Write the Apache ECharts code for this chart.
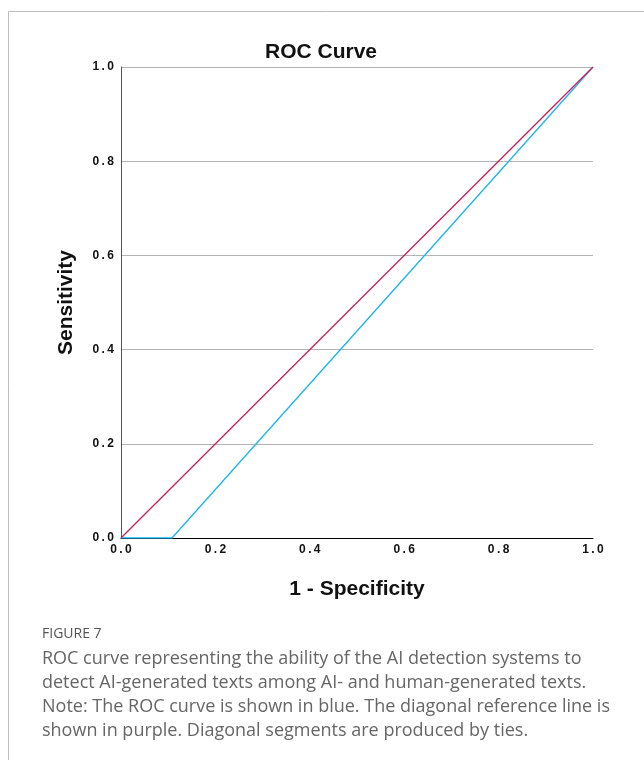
<!DOCTYPE html>
<html>
<head>
<meta charset="utf-8">
<script src="https://cdn.jsdelivr.net/npm/echarts@6/dist/echarts.min.js"></script>
<style>
  html, body { margin: 0; padding: 0; background: #fff; }
  #chart { width: 644px; height: 760px; }
</style>
</head>
<body>
<div id="chart"></div>
<script>
// ROC curve points (1 - specificity, sensitivity)
const rocX = [0, 0.108, 1]
const rocY = [0, 0, 1]
// diagonal reference line
const refX = [0, 1]
const refY = [0, 1]
// tick labels are letter-spaced in the original, thin spaces mimic that
const tickLabels = ['0.0', '0.2', '0.4', '0.6', '0.8', '1.0']
  .map(s => s.split('').join('\u2009'))

const captionLines = [
  'ROC curve representing the ability of the AI detection systems to',
  'detect AI-generated texts among AI- and human-generated texts.',
  'Note: The ROC curve is shown in blue. The diagonal reference line is',
  'shown in purple. Diagonal segments are produced by ties.'
]

const chart = echarts.init(document.getElementById('chart'))

const boldFont = 'Liberation Sans, Arial, sans-serif'

const axisFont = {
  color: '#111',
  fontFamily: boldFont,
  fontWeight: 'bold',
  fontSize: 12
}

const nameFont = {
  fontFamily: boldFont,
  fontWeight: 'bold',
  fontSize: 21,
  color: '#111'
}

const option = {
  animation: false,
  title: {
    text: 'ROC Curve',
    left: 260,
    top: 37,
    textStyle: {
      fontFamily: boldFont,
      fontWeight: 'bold',
      fontSize: 21,
      color: '#111'
    }
  },
  grid: { left: 121, right: 51, top: 67, bottom: 222 },
  xAxis: {
    type: 'value',
    min: 0,
    max: 1,
    interval: 0.2,
    name: '1 - Specificity',
    nameLocation: 'middle',
    nameGap: 41,
    nameTextStyle: nameFont,
    axisLine: { lineStyle: { color: '#000', width: 1 } },
    axisTick: { show: false },
    splitLine: { show: false },
    axisLabel: Object.assign({ margin: 6, formatter: v => tickLabels[Math.round(v * 5)] }, axisFont)
  },
  yAxis: {
    type: 'value',
    min: 0,
    max: 1,
    interval: 0.2,
    name: 'Sensitivity',
    nameLocation: 'middle',
    nameGap: 44,
    nameTextStyle: nameFont,
    axisLine: { show: true, lineStyle: { color: '#555', width: 1 } },
    axisTick: { show: false },
    splitLine: { show: true, lineStyle: { color: '#b4b4b4', width: 1 } },
    axisLabel: Object.assign({ margin: 7, formatter: v => tickLabels[Math.round(v * 5)] }, axisFont)
  },
  series: [
    {
      name: 'ROC',
      type: 'line',
      data: rocX.map((x, i) => [x, rocY[i]]),
      symbol: 'none',
      lineStyle: { color: '#1bb4f2', width: 1.3 },
      z: 3
    },
    {
      name: 'Reference',
      type: 'line',
      data: refX.map((x, i) => [x, refY[i]]),
      symbol: 'none',
      lineStyle: { color: '#c8205c', width: 1.3 },
      z: 4
    }
  ],
  graphic: [
    {
      type: 'polyline',
      shape: { points: [[8.5, 760], [8.5, 11.5], [644, 11.5]] },
      style: { stroke: '#bdbdbd', lineWidth: 1, fill: null },
      silent: true
    },
    {
      type: 'text',
      left: 42,
      top: 627,
      style: {
        text: 'FIGURE 7',
        font: '14px "Open Sans", "Noto Sans", sans-serif',
        fill: '#555'
      }
    },
    {
      type: 'text',
      left: 42,
      top: 647,
      style: {
        text: captionLines.join('\n'),
        font: '18px "Open Sans", "Noto Sans", sans-serif',
        lineHeight: 24,
        fill: '#666'
      }
    }
  ]
}

chart.setOption(option)
</script>
</body>
</html>
